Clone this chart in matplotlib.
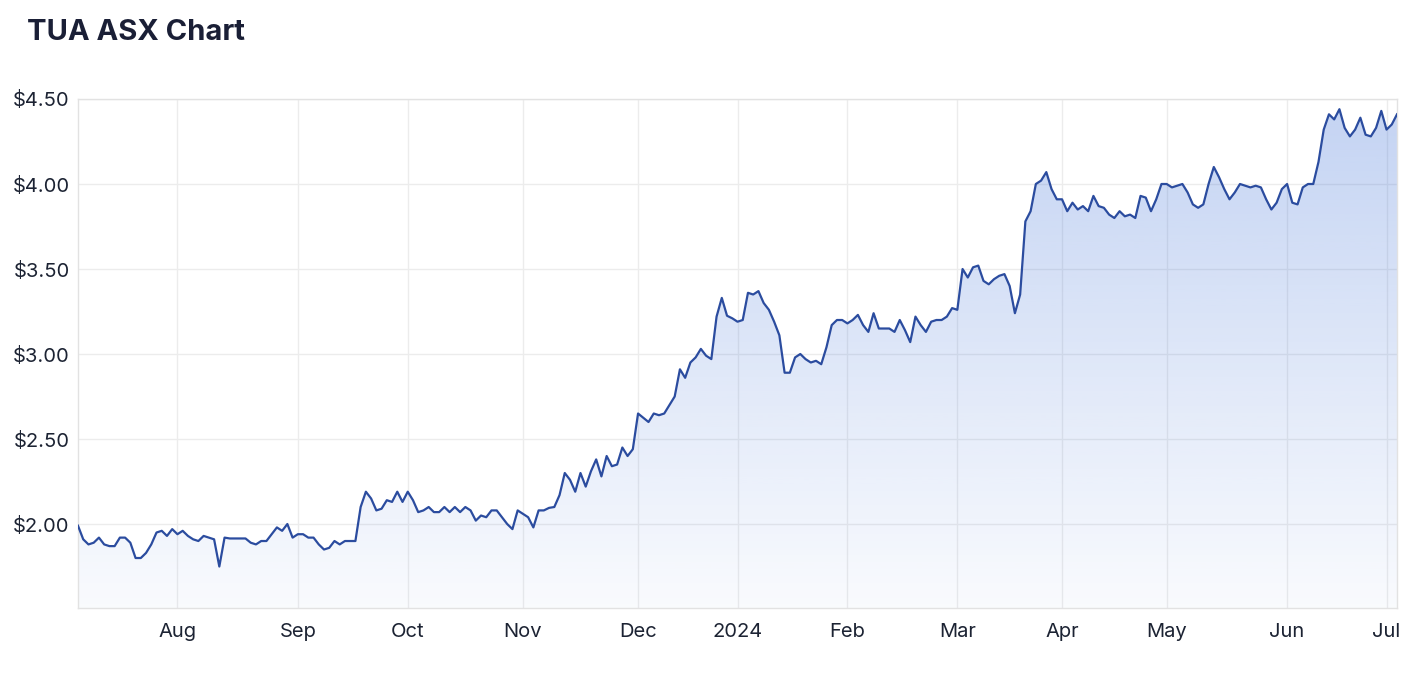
import numpy as np
import pandas as pd
import matplotlib
matplotlib.use("Agg")
from matplotlib import pyplot as plt
from matplotlib.patches import Polygon

# Trading calendar (ASX) for the shown year
start_date = "2023-07-05"
end_date = "2024-07-03"
asx_holidays = ["2023-12-25", "2023-12-26", "2024-01-01", "2024-01-26",
                "2024-03-29", "2024-04-01", "2024-04-25", "2024-06-10"]

# Daily close, one value per trading day
prices = [
    1.99, 1.91, 1.88, 1.89, 1.92, 1.88, 1.87, 1.87, 1.92, 1.92,
    1.89, 1.80, 1.80, 1.83, 1.88, 1.95, 1.96, 1.93, 1.97, 1.94,
    1.96, 1.93, 1.91, 1.90, 1.93, 1.92, 1.91, 1.75, 1.92, 1.915,
    1.915, 1.915, 1.915, 1.89, 1.88, 1.90, 1.90, 1.94, 1.98, 1.96,
    2.00, 1.92, 1.94, 1.94, 1.92, 1.92, 1.88, 1.85, 1.86, 1.90,
    1.88, 1.90, 1.90, 1.90, 2.10, 2.19, 2.15, 2.08, 2.09, 2.14,
    2.13, 2.19, 2.13, 2.19, 2.14, 2.07, 2.08, 2.10, 2.07, 2.07,
    2.10, 2.07, 2.10, 2.07, 2.10, 2.08, 2.02, 2.05, 2.04, 2.08,
    2.08, 2.04, 2.00, 1.97, 2.08, 2.06, 2.04, 1.98, 2.08, 2.08,
    2.095, 2.10, 2.17, 2.30, 2.26, 2.19, 2.30, 2.22, 2.31, 2.38,
    2.28, 2.40, 2.34, 2.35, 2.45, 2.40, 2.44, 2.65, 2.625, 2.60,
    2.65, 2.64, 2.65, 2.70, 2.75, 2.91, 2.86, 2.95, 2.98, 3.03,
    2.99, 2.97, 3.22, 3.33, 3.225, 3.21, 3.19, 3.20, 3.36, 3.35,
    3.37, 3.30, 3.26, 3.19, 3.11, 2.89, 2.89, 2.98, 3.00, 2.97,
    2.95, 2.96, 2.94, 3.04, 3.17, 3.20, 3.20, 3.18, 3.20, 3.23,
    3.17, 3.13, 3.24, 3.15, 3.15, 3.15, 3.13, 3.20, 3.14, 3.07,
    3.22, 3.17, 3.13, 3.19, 3.20, 3.20, 3.22, 3.27, 3.26, 3.50,
    3.45, 3.51, 3.52, 3.43, 3.41, 3.44, 3.46, 3.47, 3.40, 3.24,
    3.35, 3.78, 3.84, 4.00, 4.02, 4.07, 3.97, 3.91, 3.91, 3.84,
    3.89, 3.85, 3.87, 3.84, 3.93, 3.87, 3.86, 3.82, 3.80, 3.84,
    3.81, 3.82, 3.80, 3.93, 3.92, 3.84, 3.91, 4.00, 4.00, 3.98,
    3.99, 4.00, 3.95, 3.88, 3.86, 3.88, 4.00, 4.10, 4.04, 3.97,
    3.91, 3.95, 4.00, 3.99, 3.98, 3.99, 3.98, 3.91, 3.85, 3.89,
    3.97, 4.00, 3.89, 3.88, 3.98, 4.00, 4.00, 4.13, 4.32, 4.41,
    4.38, 4.44, 4.33, 4.28, 4.32, 4.39, 4.29, 4.28, 4.33, 4.43,
    4.32, 4.35, 4.41,
]

y_ticks = [2.0, 2.5, 3.0, 3.5, 4.0, 4.5]
y_low = 1.506

days = pd.bdate_range(start_date, end_date)
days = days[~days.isin(pd.to_datetime(asx_holidays))]
x = np.arange(len(days))
y = np.array(prices[:len(days)])

# first trading day of every month gets a tick
month_starts = [i for i in range(1, len(days)) if days[i].month != days[i - 1].month]
month_labels = [days[i].strftime("%Y") if days[i].month == 1 else days[i].strftime("%b")
                for i in month_starts]

plt.rcParams['font.family'] = ['Inter', 'DejaVu Sans']

fig = plt.figure(figsize=(14.2, 6.88), dpi=100)
ax = fig.add_axes([78 / 1420, 80 / 688, 1319 / 1420, 509 / 688])

# gradient fill under the line
base = np.array([62, 113, 216]) / 255
alpha = np.linspace(0.31, 0.03, 256)[:, None]
img = np.zeros((256, 1, 4))
img[..., :3] = base
img[..., 3] = alpha
im = ax.imshow(img, extent=[x[0], x[-1], y_low, 4.5], aspect='auto', origin='upper', zorder=1)
verts = [(x[0], y_low)] + list(zip(x, y)) + [(x[-1], y_low)]
clip = Polygon(verts, closed=True, facecolor='none', edgecolor='none')
ax.add_patch(clip)
im.set_clip_path(clip)

ax.plot(x, y, color='#2b4c9f', linewidth=1.6, zorder=3)

ax.set_xlim(x[0], x[-1])
ax.set_ylim(y_low, 4.5)
ax.set_xticks(month_starts)
ax.set_xticklabels(month_labels)
ax.set_yticks(y_ticks)
ax.set_yticklabels([f"${v:.2f}" for v in y_ticks])
ax.grid(True, color='#ececec', linewidth=1, zorder=0)
ax.set_axisbelow(True)
for side in ['left', 'bottom', 'top', 'right']:
    ax.spines[side].set_color('#e2e2e2')
    ax.spines[side].set_linewidth(1)
ax.tick_params(length=0, labelsize=14.5, labelcolor='#1c2333')
ax.tick_params(axis='y', pad=6)
ax.tick_params(axis='x', pad=11)

fig.text(27 / 1420, 1 - 32 / 688, "TUA ASX Chart", fontsize=21, fontweight='bold',
         color='#1a1f36', va='center', ha='left')

fig.savefig("out.png", dpi=100)
